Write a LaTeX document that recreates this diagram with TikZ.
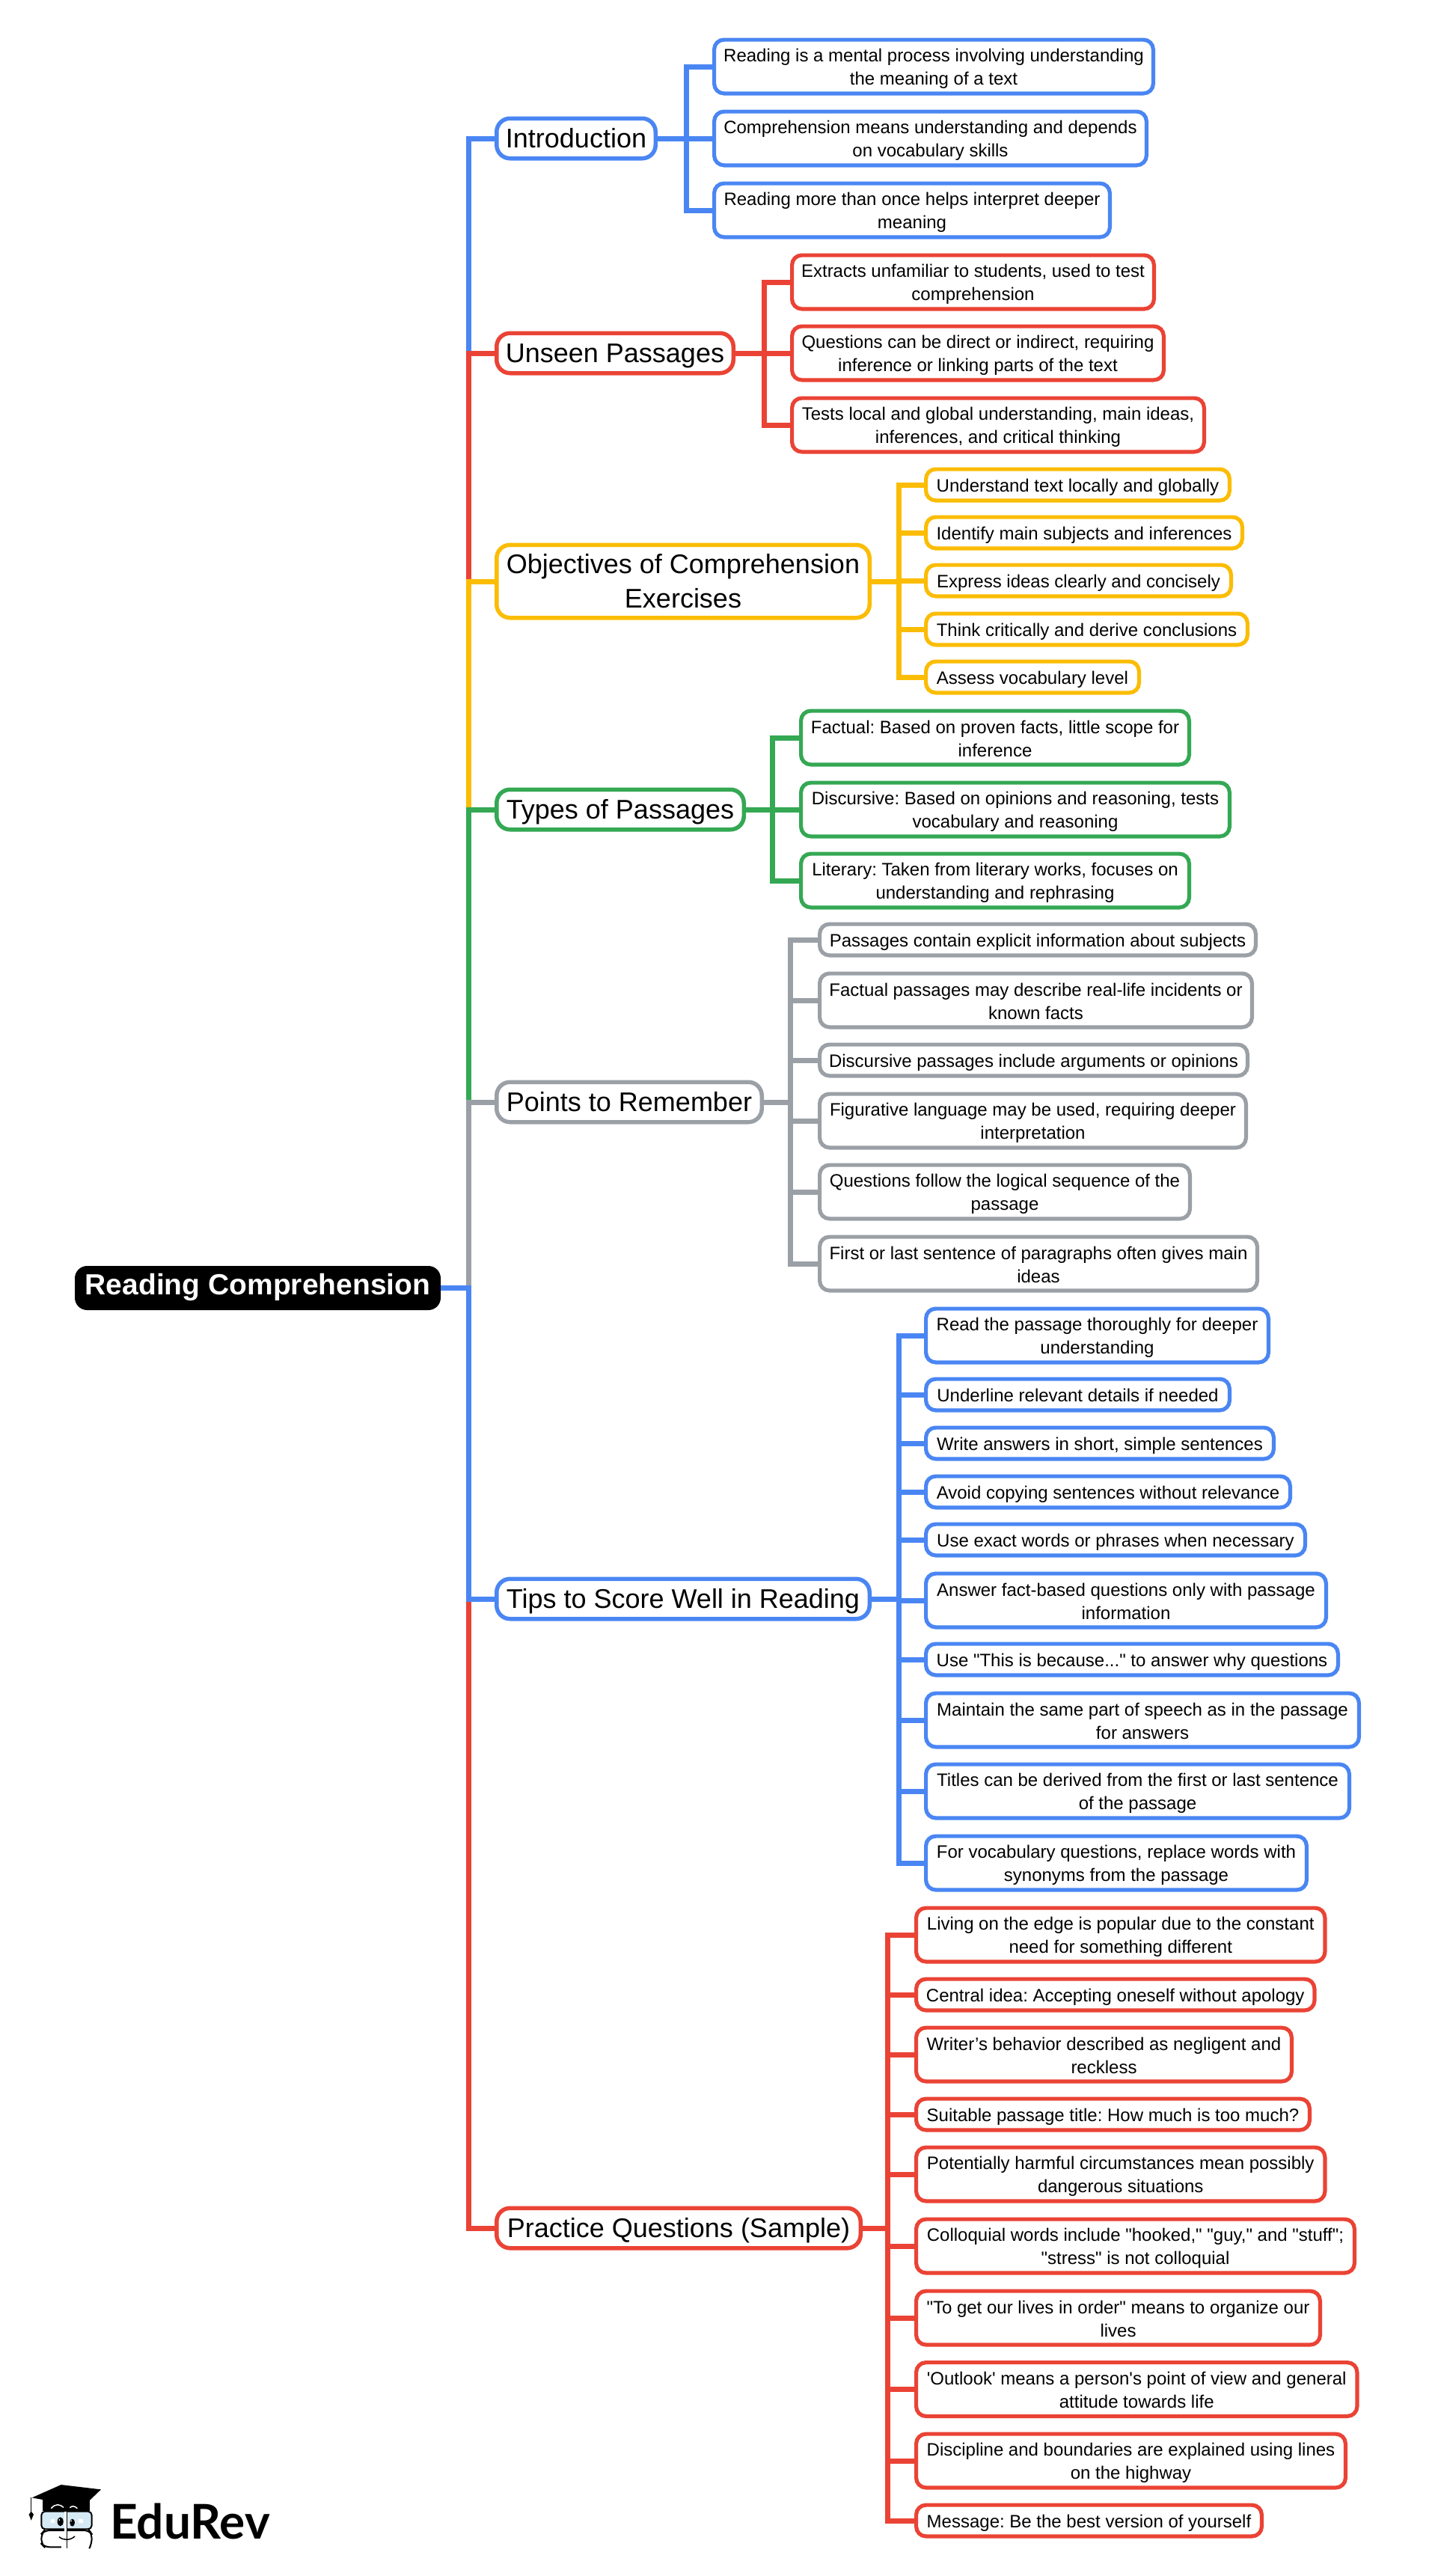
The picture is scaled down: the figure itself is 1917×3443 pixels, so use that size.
\documentclass[tikz,border=0pt]{standalone}
\usepackage{fontspec}
\newfontfamily\myfont{Liberation Sans}
\newfontfamily\logofont{Lato}
\definecolor{cblue}{HTML}{4A86F3}
\definecolor{cred}{HTML}{EA4335}
\definecolor{cyellow}{HTML}{FBBC04}
\definecolor{cgreen}{HTML}{34A853}
\definecolor{cgray}{HTML}{9AA0A6}
\definecolor{lens}{HTML}{D6EAF6}
\newcommand{\leafstrut}{\rule[-4pt]{0pt}{27pt}}
\newcommand{\mainstrut}{\rule[-6.5pt]{0pt}{38.5pt}}
\newcommand{\rootstrut}{\rule[-11pt]{0pt}{40pt}}
\tikzset{
  rootbox/.style={draw=black,fill=black,text=white,rounded corners=16pt,line width=1pt,inner sep=0pt,font=\myfont\frenchspacing\fontsize{39}{46}\selectfont\bfseries},
  mainbox/.style={fill=white,line width=5.5pt,rounded corners=18pt,inner sep=0pt,align=center,font=\myfont\frenchspacing\fontsize{36}{46}\selectfont},
  leafbox/.style={fill=white,line width=5.2pt,rounded corners=13pt,inner sep=0pt,align=center,font=\myfont\frenchspacing\fontsize{24}{31}\selectfont},
  wire/.style={line width=7pt,line join=miter},
}
% \mainn{id}{colour}{left}{right}{cy}{h}{text}
\newcommand{\mainn}[7]{%
  \pgfmathsetmacro{\nw}{#4-#3-5.5}\pgfmathsetmacro{\nx}{(#3+#4)/2}\pgfmathsetmacro{\nh}{#6-5.5}%
  \node[mainbox,draw=#2,minimum width=\nw pt,minimum height=\nh pt] (#1) at (\nx,#5) {\mainstrut#7\mainstrut};}
% \leaf{id}{parent}{junction}{colour}{left}{right}{cy}{h}{text}
\newcommand{\leaf}[9]{%
  \pgfmathsetmacro{\nw}{#6-#5-5.2}\pgfmathsetmacro{\nx}{(#5+#6)/2}\pgfmathsetmacro{\nh}{#8-5.2}%
  \node[leafbox,draw=#4,minimum width=\nw pt,minimum height=\nh pt] (#1) at (\nx,#7) {\leafstrut#9\leafstrut};
  \draw[wire,#4] (#2.east) -- (#3 |- #2.east) -- (#3 |- #1.west) -- (#1.west);}
\begin{document}
\begin{tikzpicture}[x=1pt,y=-1pt]
\useasboundingbox (0,0) rectangle (1917,3443);
\fill[white] (0,0) rectangle (1917,3443);
\node[rootbox,minimum width=488pt,minimum height=58pt] (root) at (344.5,1721.5) {\rootstrut Reading Comprehension};
\coordinate (jroot) at (626,0);
\coordinate (jintro) at (917,0);
\coordinate (junseen) at (1021,0);
\coordinate (jobj) at (1201,0);
\coordinate (jtypes) at (1032,0);
\coordinate (jpoints) at (1056,0);
\coordinate (jtips) at (1201,0);
\coordinate (jprac) at (1186,0);
% main topics
\mainn{intro}{cblue}{661}{879}{185}{59}{Introduction}
\mainn{unseen}{cred}{661}{983}{472}{59}{Unseen Passages}
\mainn{obj}{cyellow}{661}{1165}{777}{103}{Objectives of Comprehension\\Exercises}
\mainn{types}{cgreen}{661}{997}{1082}{59}{Types of Passages}
\mainn{points}{cgray}{661}{1021}{1473}{59}{Points to Remember}
\mainn{tips}{cblue}{661}{1165}{2137}{59}{Tips to Score Well in Reading}
\mainn{prac}{cred}{661}{1153}{2978}{59}{Practice Questions (Sample)}
% trunk, drawn so that each colour overlays the previous
\foreach \c/\t in {cblue/intro,cred/unseen,cyellow/obj,cgreen/types,cgray/points,cred/prac,cblue/tips}{
  \draw[wire,\c] (root.east) -- (jroot |- root.east) -- (jroot |- \t.west) -- (\t.west);
}
% Introduction
\leaf{a1}{intro}{jintro}{cblue}{952}{1544}{89}{77}{Reading is a mental process involving understanding\\the meaning of a text}
\leaf{a2}{intro}{jintro}{cblue}{952}{1535}{185}{77}{Comprehension means understanding and depends\\on vocabulary skills}
\leaf{a3}{intro}{jintro}{cblue}{952}{1486}{281}{77}{Reading more than once helps interpret deeper\\meaning}
% Unseen
\leaf{b1}{unseen}{junseen}{cred}{1056}{1545}{377}{77}{Extracts unfamiliar to students, used to test\\comprehension}
\leaf{b2}{unseen}{junseen}{cred}{1056}{1558}{472}{77}{Questions can be direct or indirect, requiring\\inference or linking parts of the text}
\leaf{b3}{unseen}{junseen}{cred}{1056}{1612}{568}{77}{Tests local and global understanding, main ideas,\\inferences, and critical thinking}
% Objectives
\leaf{c1}{obj}{jobj}{cyellow}{1235}{1646}{648}{47}{Understand text locally and globally}
\leaf{c2}{obj}{jobj}{cyellow}{1235}{1663}{712}{47}{Identify main subjects and inferences}
\leaf{c3}{obj}{jobj}{cyellow}{1235}{1648}{776}{47}{Express ideas clearly and concisely}
\leaf{c4}{obj}{jobj}{cyellow}{1235}{1670}{841}{47}{Think critically and derive conclusions}
\leaf{c5}{obj}{jobj}{cyellow}{1235}{1525}{905}{47}{Assess vocabulary level}
% Types
\leaf{d1}{types}{jtypes}{cgreen}{1068}{1592}{986}{77}{Factual: Based on proven facts, little scope for\\inference}
\leaf{d2}{types}{jtypes}{cgreen}{1068}{1646}{1082}{77}{Discursive: Based on opinions and reasoning, tests\\vocabulary and reasoning}
\leaf{d3}{types}{jtypes}{cgreen}{1068}{1592}{1177}{77}{Literary: Taken from literary works, focuses on\\understanding and rephrasing}
% Points
\leaf{e1}{points}{jpoints}{cgray}{1093}{1681}{1256}{47}{Passages contain explicit information about subjects}
\leaf{e2}{points}{jpoints}{cgray}{1093}{1676}{1337}{77}{Factual passages may describe real-life incidents or\\known facts}
\leaf{e3}{points}{jpoints}{cgray}{1093}{1670}{1417}{47}{Discursive passages include arguments or opinions}
\leaf{e4}{points}{jpoints}{cgray}{1093}{1668}{1498}{77}{Figurative language may be used, requiring deeper\\interpretation}
\leaf{e5}{points}{jpoints}{cgray}{1093}{1593}{1593}{77}{Questions follow the logical sequence of the\\passage}
\leaf{e6}{points}{jpoints}{cgray}{1093}{1683}{1689}{77}{First or last sentence of paragraphs often gives main\\ideas}
% Tips
\leaf{f1}{tips}{jtips}{cblue}{1235}{1698}{1785}{77}{Read the passage thoroughly for deeper\\understanding}
\leaf{f2}{tips}{jtips}{cblue}{1235}{1646}{1864}{47}{Underline relevant details if needed}
\leaf{f3}{tips}{jtips}{cblue}{1235}{1705}{1929}{47}{Write answers in short, simple sentences}
\leaf{f4}{tips}{jtips}{cblue}{1235}{1727}{1994}{47}{Avoid copying sentences without relevance}
\leaf{f5}{tips}{jtips}{cblue}{1235}{1747}{2058}{47}{Use exact words or phrases when necessary}
\leaf{f6}{tips}{jtips}{cblue}{1235}{1775}{2139}{77}{Answer fact-based questions only with passage\\information}
\leaf{f7}{tips}{jtips}{cblue}{1235}{1791}{2218}{47}{Use "This is because..." to answer why questions}
\leaf{f8}{tips}{jtips}{cblue}{1235}{1819}{2299}{77}{Maintain the same part of speech as in the passage\\for answers}
\leaf{f9}{tips}{jtips}{cblue}{1235}{1806}{2394}{77}{Titles can be derived from the first or last sentence\\of the passage}
\leaf{f10}{tips}{jtips}{cblue}{1235}{1749}{2490}{77}{For vocabulary questions, replace words with\\synonyms from the passage}
% Practice
\leaf{g1}{prac}{jprac}{cred}{1222}{1773.5}{2586}{77}{Living on the edge is popular due to the constant\\need for something different}
\leaf{g2}{prac}{jprac}{cred}{1222}{1759.5}{2666}{47}{Central idea: Accepting oneself without apology}
\leaf{g3}{prac}{jprac}{cred}{1222}{1729}{2746}{77}{Writer’s behavior described as negligent and\\reckless}
\leaf{g4}{prac}{jprac}{cred}{1222}{1753}{2826}{47}{Suitable passage title: How much is too much?}
\leaf{g5}{prac}{jprac}{cred}{1222}{1773.5}{2906}{77}{Potentially harmful circumstances mean possibly\\dangerous situations}
\leaf{g6}{prac}{jprac}{cred}{1222}{1813}{3002}{77}{Colloquial words include "hooked," "guy," and "stuff";\\"stress" is not colloquial}
\leaf{g7}{prac}{jprac}{cred}{1222}{1767}{3098}{77}{"To get our lives in order" means to organize our\\lives}
\leaf{g8}{prac}{jprac}{cred}{1222}{1816.5}{3193.5}{77}{'Outlook' means a person's point of view and general\\attitude towards life}
\leaf{g9}{prac}{jprac}{cred}{1222}{1801}{3289}{77}{Discipline and boundaries are explained using lines\\on the highway}
\leaf{g10}{prac}{jprac}{cred}{1222}{1689}{3369}{47}{Message: Be the best version of yourself}
% logo
\begin{scope}[shift={(0,3240)},x=0.3333pt,y=-0.3333pt]
  \fill[black] (172,300) -- (172,348) -- (360,348) -- (360,300) -- cycle;
  \fill[black] (245,243) -- (405,262) -- (332,332) -- (128,295) -- cycle;
  \draw[white,line width=1.5pt] (205,338) .. controls (222,318) and (240,320) .. (255,334);
  \draw[white,line width=1.5pt] (280,335) .. controls (290,326) and (300,328) .. (310,338);
  \draw[black,line width=1.5pt] (125,293) -- (125,352);
  \fill[black] (125,350) -- (135,362) -- (125,386) -- (116,362) -- cycle;
  \draw[black,line width=2pt,fill=lens,rounded corners=5pt] (166,350) rectangle (368,421);
  \draw[black,line width=2pt,rounded corners=7pt] (268,426) -- (178,426) -- (166,440) -- (166,480) -- (178,493) -- (246,493);
  \draw[black,line width=2pt,rounded corners=7pt] (268,426) -- (358,426) -- (368,440) -- (368,480) -- (360,495);
  \draw[white,line width=2.6pt] (263,350) -- (263,495);
  \draw[black,line width=1.5pt] (268,350) -- (268,497);
  \fill[black] (242,391) ellipse [x radius=12,y radius=18];
  \fill[black] (290,395) ellipse [x radius=10,y radius=15];
  \fill[white] (238,384) circle (3);
  \fill[white] (286,388) circle (3);
  \fill[white] (205,381) rectangle (220,396);
  \fill[white] (315,381) rectangle (332,396);
  \draw[black,line width=1.5pt] (237,452) .. controls (255,467) and (280,467) .. (300,450);
\end{scope}
\node[anchor=base west,inner sep=0pt,text=black,font=\logofont\fontsize{64}{65}\selectfont\bfseries] (logo) at (147,3393) {EduRev};
\end{tikzpicture}
\end{document}
